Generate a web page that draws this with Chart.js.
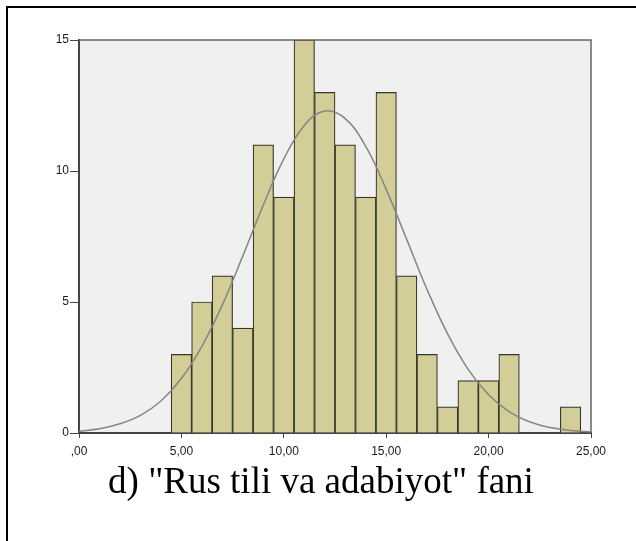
<!DOCTYPE html>
<html lang="uz">
<head>
<meta charset="UTF-8">
<title>Rus tili va adabiyot</title>
<script src="https://cdn.jsdelivr.net/npm/chart.js"></script>
<style>
  body { margin: 0; background: #fff; }
  .wrap { position: relative; width: 636px; height: 541px; overflow: hidden; }
  .frame { position: absolute; left: 6px; top: 6px; right: -10px; bottom: -10px;
           border-top: 2px solid #000; border-left: 2px solid #000; }
  .box { position: absolute; left: 0; top: 0; width: 636px; height: 541px; }
  .caption { position: absolute; left: 0; width: 642px; top: 459px; text-align: center;
             font-family: "Liberation Serif", "Times New Roman", serif; font-size: 37px;
             line-height: 44px; color: #000; }
</style>
</head>
<body>
<div class="wrap">
  <div class="frame"></div>
  <div class="box"><canvas id="hist"></canvas></div>
  <div class="caption">d) "Rus tili va adabiyot" fani</div>
</div>
<script>
// histogram bins (centre of each 1-wide bin) and counts
const binCentres = [5, 6, 7, 8, 9, 10, 11, 12, 13, 14, 15, 16, 17, 18, 19, 20, 21, 22, 23, 24];
const counts     = [3, 5, 6, 4, 11, 9, 15, 13, 11, 9, 13, 6, 3, 1, 2, 2, 3, 0, 0, 1];

// normal curve
const curveX = [0, 1, 2, 3, 4, 5, 6, 7, 8, 9, 10, 11, 12, 13, 14, 15, 16, 17, 18, 19, 20, 21, 22, 23, 24, 25];
const curveY = [0.07, 0.16, 0.35, 0.67, 1.22, 2.08, 3.31, 4.89, 6.76, 8.7, 10.46, 11.74, 12.29, 12.0, 10.94,
                9.3, 7.39, 5.47, 3.78, 2.43, 1.46, 0.82, 0.43, 0.21, 0.1, 0.04];

const xTicks = [0, 5, 10, 15, 20, 25];
const yTicks = [0, 5, 10, 15];

const plotFrame = {
  id: 'plotFrame',
  beforeDraw(chart) {
    const a = chart.chartArea, c = chart.ctx;
    c.save();
    c.fillStyle = '#f0f0f0';
    c.fillRect(a.left, a.top, a.right - a.left, a.bottom - a.top);
    c.restore();
  },
  afterDraw(chart) {
    const a = chart.chartArea, c = chart.ctx;
    c.save();
    c.strokeStyle = '#666';
    c.lineWidth = 1.5;
    c.beginPath();
    c.moveTo(a.left, a.top);
    c.lineTo(a.right, a.top);
    c.lineTo(a.right, a.bottom);
    c.stroke();
    c.restore();
  }
};

function fmt(v) {
  // SPSS style: ",00", "5,00"
  return (v === 0 ? '' : String(v)) + ',00';
}

const tickFont = { family: 'Liberation Sans, Arial, sans-serif', size: 12 };

new Chart(document.getElementById('hist'), {
  type: 'bar',
  data: {
    datasets: [{
      type: 'line',
      data: curveX.map((x, i) => ({ x: x, y: curveY[i] })),
      borderColor: '#858585',
      borderWidth: 1.5,
      pointRadius: 0,
      tension: 0.4,
      order: 0
    }, {
      type: 'bar',
      data: binCentres.map((x, i) => ({ x: x, y: counts[i] })),
      backgroundColor: '#d3ce98',
      borderColor: '#35352a',
      borderWidth: 1.2,
      barPercentage: 1,
      categoryPercentage: 1,
      order: 1
    }]
  },
  options: {
    responsive: true,
    maintainAspectRatio: false,
    animation: false,
    layout: { padding: { left: 49, top: 40, right: 45, bottom: 78 } },
    plugins: { legend: { display: false }, tooltip: { enabled: false } },
    scales: {
      x: {
        type: 'linear',
        min: 0, max: 25,
        offset: false,
        afterFit(s) { s.height = 30; },
        afterBuildTicks(s) { s.ticks = xTicks.map(v => ({ value: v })); },
        grid: { offset: false, drawOnChartArea: false, drawTicks: true, tickLength: 5, color: '#444' },
        border: { color: '#444', width: 2 },
        ticks: { callback: v => fmt(v), color: '#1a1a1a', padding: 6, maxRotation: 0, font: tickFont }
      },
      y: {
        min: 0, max: 15,
        afterFit(s) { s.width = 30; },
        afterBuildTicks(s) { s.ticks = yTicks.map(v => ({ value: v })); },
        grid: { offset: false, drawOnChartArea: false, drawTicks: true, tickLength: 9, color: '#444' },
        border: { color: '#444', width: 2 },
        ticks: { color: '#1a1a1a', padding: 1, font: tickFont }
      }
    }
  },
  plugins: [plotFrame]
});
</script>
</body>
</html>
